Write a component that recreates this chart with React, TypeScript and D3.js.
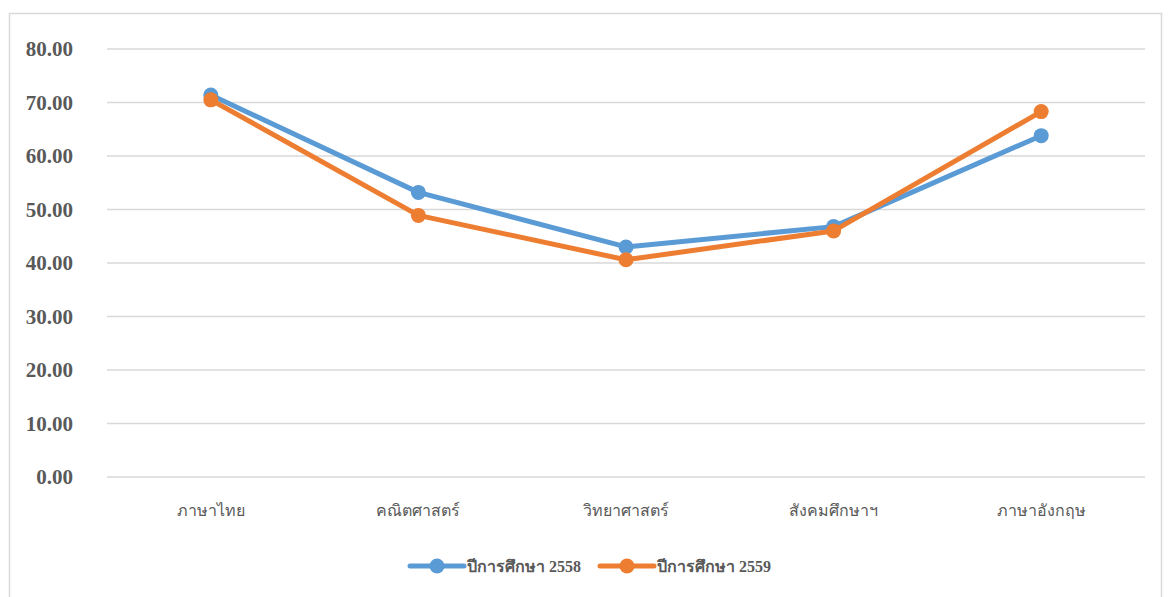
import { useRef, useEffect } from "react";
import * as d3 from "d3";

const categories = ["ภาษาไทย", "คณิตศาสตร์", "วิทยาศาสตร์", "สังคมศึกษาฯ", "ภาษาอังกฤษ"];
const series2558 = [71.4, 53.2, 43.0, 46.8, 63.8];
const series2559 = [70.5, 48.9, 40.6, 46.0, 68.3];
const seriesNames = ["ปีการศึกษา 2558", "ปีการศึกษา 2559"];
const seriesColors = ["#5B9BD5", "#ED7D31"];
const yTicks = [0, 10, 20, 30, 40, 50, 60, 70, 80];

const W = 1173;
const H = 597;

const App = () => {
  const svgRef = useRef<SVGSVGElement>(null);

  useEffect(() => {
    const svg = d3.select(svgRef.current);
    svg.selectAll("*").remove();

    const left = 107;
    const right = 1145;
    const top = 49;
    const bottom = 477;

    const x = d3.scaleBand().domain(categories).range([left, right]);
    const y = d3.scaleLinear().domain([0, 80]).range([bottom, top]);

    // outer frame
    svg
      .append("rect")
      .attr("x", 9.5)
      .attr("y", 13.5)
      .attr("width", 1152)
      .attr("height", 600)
      .attr("fill", "#fff")
      .attr("stroke", "#D9D9D9")
      .attr("stroke-width", 1.5);

    // gridlines
    svg
      .append("g")
      .selectAll("line")
      .data(yTicks)
      .join("line")
      .attr("x1", left)
      .attr("x2", right)
      .attr("y1", (d) => y(d))
      .attr("y2", (d) => y(d))
      .attr("stroke", "#D9D9D9")
      .attr("stroke-width", 1.5);

    // y labels
    svg
      .append("g")
      .selectAll("text")
      .data(yTicks)
      .join("text")
      .attr("x", 73)
      .attr("y", (d) => y(d))
      .attr("dy", "0.35em")
      .attr("text-anchor", "end")
      .attr("font-family", "'Liberation Serif', serif")
      .attr("font-weight", "bold")
      .attr("font-size", 21)
      .attr("fill", "#595959")
      .text((d) => d3.format(".2f")(d));

    // x labels
    svg
      .append("g")
      .selectAll("text")
      .data(categories)
      .join("text")
      .attr("x", (d) => x(d)! + x.bandwidth() / 2)
      .attr("y", 516)
      .attr("text-anchor", "middle")
      .attr("font-family", "'Liberation Serif', serif")
      .attr("font-size", 16)
      .attr("fill", "#595959")
      .text((d) => d);

    const cx = (i: number) => x(categories[i])! + x.bandwidth() / 2;
    const line = d3
      .line<number>()
      .x((_, i) => cx(i))
      .y((d) => y(d));

    [series2558, series2559].forEach((s, k) => {
      const g = svg.append("g");
      g.append("path")
        .attr("d", line(s))
        .attr("fill", "none")
        .attr("stroke", seriesColors[k])
        .attr("stroke-width", 5)
        .attr("stroke-linejoin", "round")
        .attr("stroke-linecap", "round");
      g.selectAll("circle")
        .data(s)
        .join("circle")
        .attr("cx", (_, i) => cx(i))
        .attr("cy", (d) => y(d))
        .attr("r", 7.5)
        .attr("fill", seriesColors[k]);
    });

    // legend
    const legendY = 566;
    const legendX = [410, 600];
    seriesNames.forEach((name, k) => {
      const g = svg.append("g").attr("transform", `translate(${legendX[k]},${legendY})`);
      g.append("line")
        .attr("x1", 0)
        .attr("x2", 54)
        .attr("stroke", seriesColors[k])
        .attr("stroke-width", 5)
        .attr("stroke-linecap", "round");
      g.append("circle").attr("cx", 27).attr("r", 7.5).attr("fill", seriesColors[k]);
      g.append("text")
        .attr("x", 57)
        .attr("dy", "0.35em")
        .attr("font-family", "'Liberation Serif', serif")
        .attr("font-weight", "bold")
        .attr("font-size", 16)
        .attr("fill", "#595959")
        .text(name);
    });
  }, []);

  return (
    <div style={{ position: "absolute", left: 0, top: 0 }}>
      <svg ref={svgRef} width={W} height={H} />
    </div>
  );
};

export default App;
